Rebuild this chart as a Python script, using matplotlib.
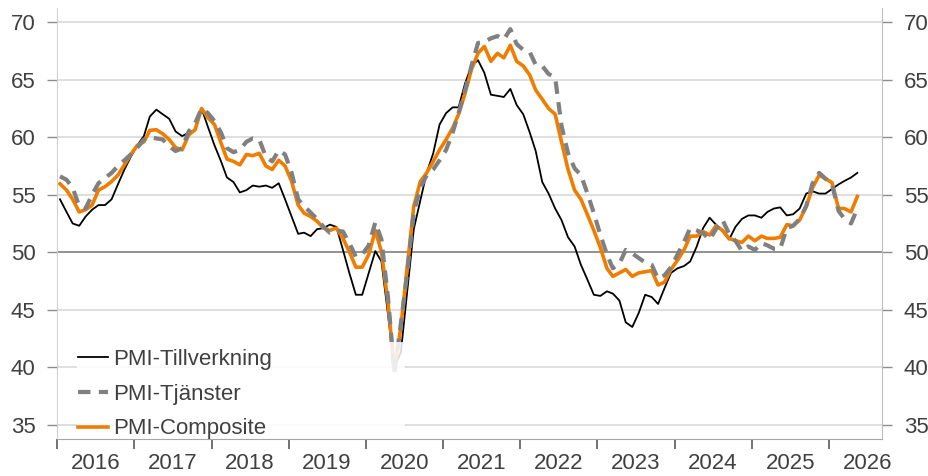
import matplotlib
matplotlib.use("Agg")
import matplotlib.pyplot as plt
import matplotlib.dates as mdates
from matplotlib.patches import Rectangle
import pandas as pd

plt.rcParams['font.family'] = ['Liberation Sans', 'DejaVu Sans']

# monthly, Jan 2016 ->
tillverkning = [
    54.6, 53.5, 52.5, 52.3, 53.1, 53.7, 54.1, 54.1, 54.6, 55.9, 57.2, 58.3,
    59.3, 60.1, 61.8, 62.4, 62.0, 61.6, 60.5, 60.1, 60.4, 60.6, 62.5, 60.9,
    59.3, 57.9, 56.5, 56.1, 55.2, 55.4, 55.8, 55.7, 55.8, 55.6, 56.0, 54.6,
    53.1, 51.6, 51.7, 51.4, 52.0, 52.1, 52.4, 52.2, 50.2, 48.2, 46.3, 46.3,
    48.2, 50.1, 49.2, 44.6, 40.0, 41.3, 46.6, 52.0, 54.5, 56.9, 58.6, 61.1,
    62.1, 62.6, 62.6, 64.7, 66.2, 66.7, 65.6, 63.7, 63.6, 63.5, 64.2, 62.8,
    62.0, 60.4, 58.8, 56.1, 55.1, 53.8, 52.8, 51.3, 50.5, 48.9, 47.6, 46.3,
    46.2, 46.6, 46.4, 45.8, 43.9, 43.5, 44.7, 46.3, 46.1, 45.5, 46.9, 48.2,
    48.6, 48.8, 49.2, 50.5, 52.1, 53.0, 52.4, 51.8, 51.1, 52.2, 52.9, 53.2,
    53.2, 53.0, 53.5, 53.8, 53.9, 53.2, 53.3, 53.8, 55.1, 55.3, 55.1, 55.1,
    55.5, 55.9, 56.2, 56.5, 56.9,
]
tjanster = [
    56.6, 56.3, 55.6, 54.0, 53.8, 55.0, 56.0, 56.45, 56.9, 57.5, 58.0, 58.5,
    59.1, 59.8, 60.0, 59.9, 59.8, 59.2, 58.8, 59.05, 60.5, 61.2, 62.5, 62.1,
    61.4, 60.4, 59.05, 58.7, 58.9, 59.6, 59.9, 59.8, 58.3, 57.9, 58.85, 58.5,
    56.9, 54.6, 54.0, 53.45, 52.9, 52.2, 51.7, 51.9, 51.8, 50.8, 49.6, 49.8,
    50.6, 52.6, 51.1, 46.1, 39.5, 43.8, 48.2, 53.5, 55.6, 56.7, 57.2, 58.0,
    58.9, 60.4, 62.1, 64.1, 66.2, 68.2, 68.3, 68.6, 68.8, 68.5, 69.4, 68.1,
    67.6, 67.4, 66.3, 66.2, 65.5, 65.2, 61.0, 58.6, 57.3, 56.7, 55.1, 53.4,
    51.5, 49.8, 48.6, 49.0, 50.2, 49.9, 49.5, 49.1, 48.9, 47.7, 48.0, 48.7,
    49.8, 50.9, 52.1, 51.9, 51.65, 51.1, 52.0, 52.8, 51.6, 51.0, 50.1, 50.5,
    50.2, 50.8, 50.6, 50.3, 50.3, 52.1, 52.3, 52.9, 54.0, 56.0, 56.9, 56.4,
    55.9, 53.6, 52.9, 52.5, 53.8,
]
composite = [
    55.95, 55.4, 54.6, 53.5, 53.7, 54.1, 55.4, 55.7, 56.15, 56.7, 57.6, 58.5,
    59.3, 59.6, 60.6, 60.65, 60.3, 59.8, 59.1, 58.9, 60.2, 60.65, 62.5, 61.7,
    61.1, 59.5, 58.1, 57.9, 57.6, 58.5, 58.4, 58.6, 57.5, 57.2, 58.0, 57.5,
    56.15, 54.1, 53.4, 53.1, 52.7, 52.1, 51.9, 52.1, 51.2, 50.05, 48.7, 48.7,
    49.8, 51.9, 50.05, 45.6, 39.7, 43.5, 48.7, 54.0, 56.15, 56.9, 57.9, 58.9,
    59.8, 60.8, 62.0, 63.85, 65.9, 67.3, 67.9, 66.6, 67.3, 66.9, 68.0, 66.6,
    66.2, 65.4, 64.1, 63.3, 62.5, 62.0, 59.6, 57.2, 55.4, 54.6, 53.25, 51.9,
    50.4, 48.6, 47.9, 48.2, 48.5, 47.9, 48.2, 48.3, 48.4, 47.15, 47.4, 48.5,
    49.3, 50.2, 51.4, 51.4, 51.8, 51.5, 52.3, 51.9, 51.2, 51.0, 50.85, 51.4,
    51.0, 51.4, 51.2, 51.2, 51.3, 52.4, 52.3, 52.8, 54.0, 55.6, 56.7, 56.4,
    56.05, 53.8, 53.8, 53.5, 54.85,
]
dates = pd.date_range('2016-01-01', periods=len(composite), freq='MS') + pd.Timedelta(days=14)

fig = plt.figure(figsize=(9.29, 4.76), dpi=100)
ax = fig.add_axes([0.0614, 0.0771, 0.8881, 0.9061])

ax.plot(dates, tillverkning, color='black', lw=1.3, zorder=2, label='PMI-Tillverkning')
ax.plot(dates, tjanster, color='#808080', lw=3.0, ls=(0, (3, 2)), dash_capstyle='butt',
        zorder=2.4, label='PMI-Tjänster')
ax.plot(dates, composite, color='#f07d00', lw=2.6, zorder=2.2, label='PMI-Composite')

ax.axhline(50, color='#8c8c8c', lw=1.3, zorder=1.5)

ax.set_ylim(33.73, 71.24)
ax.set_xlim(pd.Timestamp('2016-01-01'), pd.Timestamp('2026-09-09'))
ax.set_yticks(range(35, 71, 5))
ax.yaxis.grid(True, color='#d9d9d9', lw=1.2)
ax.set_axisbelow(True)

ax.xaxis.set_major_locator(mdates.YearLocator())
ax.xaxis.set_minor_locator(mdates.MonthLocator(bymonth=7))
ax.xaxis.set_major_formatter(plt.NullFormatter())
ax.xaxis.set_minor_formatter(mdates.DateFormatter('%Y'))
ax.tick_params(axis='x', which='major', length=7.5, width=1.2, color='#595959')
ax.tick_params(axis='x', which='minor', length=0, pad=10, labelsize=16, labelcolor='#404040')
ax.tick_params(axis='y', length=7.5, width=1, color='#8c8c8c', pad=8, labelsize=16,
               labelcolor='#404040', right=True, labelright=True)

ax.spines['top'].set_visible(False)
ax.spines['left'].set_color('#d0d0d0')
ax.spines['right'].set_color('#bfbfbf')
ax.spines['bottom'].set_color('#a6a6a6')

# semi-transparent white box behind the legend
ax.add_patch(Rectangle((0.0242, 0.004), 0.3976, 0.2216, transform=ax.transAxes,
                       facecolor='white', alpha=0.85, edgecolor='none', zorder=5))
leg = ax.legend(loc='lower left', bbox_to_anchor=(0.025, 0.0), frameon=False, fontsize=16,
                handlelength=1.35, handletextpad=0.25, labelspacing=0.62, borderpad=0,
                borderaxespad=0, labelcolor='#404040')
leg.set_zorder(6)

fig.savefig('out.png', dpi=100)
